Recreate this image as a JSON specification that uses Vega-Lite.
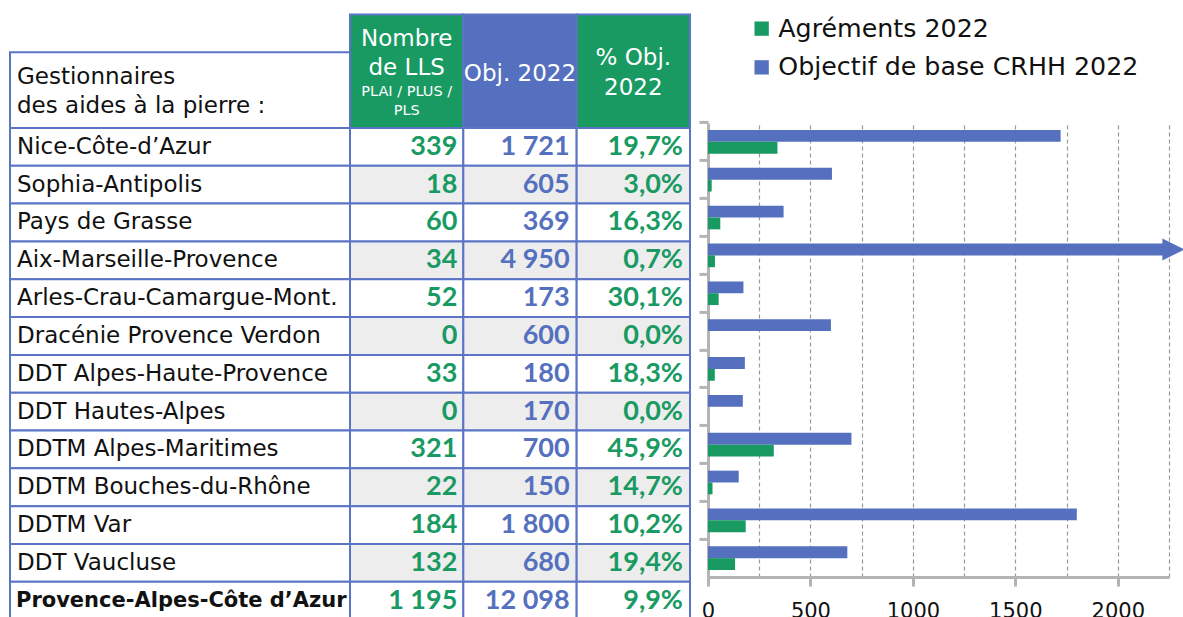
{
  "$schema": "https://vega.github.io/schema/vega-lite/v6.json",
  "padding": {"left": 9, "top": 13, "right": 0, "bottom": 0},
  "background": "#FFFFFF",
  "config": {
    "view": {"stroke": null},
    "font": "DejaVu Sans",
    "locale": {"number": {"decimal": ",", "thousands": "\u00a0", "grouping": [3], "currency": ["", "\u00a0€"]}}
  },
  "datasets": {
    "gestionnaires": [
      {"nom": "Nice-Côte-d’Azur", "agr": 339, "obj": 1721, "pct": 0.197},
      {"nom": "Sophia-Antipolis", "agr": 18, "obj": 605, "pct": 0.030},
      {"nom": "Pays de Grasse", "agr": 60, "obj": 369, "pct": 0.163},
      {"nom": "Aix-Marseille-Provence", "agr": 34, "obj": 4950, "pct": 0.007},
      {"nom": "Arles-Crau-Camargue-Mont.", "agr": 52, "obj": 173, "pct": 0.301},
      {"nom": "Dracénie Provence Verdon", "agr": 0, "obj": 600, "pct": 0.0},
      {"nom": "DDT Alpes-Haute-Provence", "agr": 33, "obj": 180, "pct": 0.183},
      {"nom": "DDT Hautes-Alpes", "agr": 0, "obj": 170, "pct": 0.0},
      {"nom": "DDTM Alpes-Maritimes", "agr": 321, "obj": 700, "pct": 0.459},
      {"nom": "DDTM Bouches-du-Rhône", "agr": 22, "obj": 150, "pct": 0.147},
      {"nom": "DDTM Var", "agr": 184, "obj": 1800, "pct": 0.102},
      {"nom": "DDT Vaucluse", "agr": 132, "obj": 680, "pct": 0.194},
      {"nom": "Provence-Alpes-Côte d’Azur", "agr": 1195, "obj": 12098, "pct": 0.099}
    ],
    "entete": [
      {"col": "nom", "titre": "Gestionnaires\ndes aides à la pierre :"},
      {"col": "agr", "titre": "Nombre\nde LLS", "detail": "PLAI / PLUS /\nPLS"},
      {"col": "obj", "titre": "Obj. 2022"},
      {"col": "pct", "titre": "% Obj.\n2022"}
    ]
  },
  "hconcat": [
    {
      "width": 340,
      "height": 671.2,
      "data": {"name": "gestionnaires"},
      "layer": [
        {
          "data": {"name": "entete"},
          "transform": [{"filter": "datum.col === 'nom'"}],
          "mark": {"type": "rect", "fill": "#FFFFFF", "stroke": "#5B74C6", "strokeWidth": 2},
          "encoding": {
            "y": {"datum": "h2", "type": "nominal", "bandPosition": 0, "axis": null,
              "scale": {"type": "band", "domain": ["h1","h2","h3","Nice-Côte-d’Azur","Sophia-Antipolis","Pays de Grasse","Aix-Marseille-Provence","Arles-Crau-Camargue-Mont.","Dracénie Provence Verdon","DDT Alpes-Haute-Provence","DDT Hautes-Alpes","DDTM Alpes-Maritimes","DDTM Bouches-du-Rhône","DDTM Var","DDT Vaucluse","Provence-Alpes-Côte d’Azur"], "paddingInner": 0, "paddingOuter": 0.871, "align": 0}},
            "y2": {"datum": "h3", "bandPosition": 1}
          }
        },
        {
          "mark": {"type": "rect", "fill": "#FFFFFF", "stroke": "#5B74C6", "strokeWidth": 2},
          "encoding": {
            "y": {"field": "nom", "type": "nominal", "axis": null,
              "scale": {"type": "band", "domain": ["h1","h2","h3","Nice-Côte-d’Azur","Sophia-Antipolis","Pays de Grasse","Aix-Marseille-Provence","Arles-Crau-Camargue-Mont.","Dracénie Provence Verdon","DDT Alpes-Haute-Provence","DDT Hautes-Alpes","DDTM Alpes-Maritimes","DDTM Bouches-du-Rhône","DDTM Var","DDT Vaucluse","Provence-Alpes-Côte d’Azur"], "paddingInner": 0, "paddingOuter": 0.871, "align": 0}}
          }
        },
        {
          "data": {"name": "entete"},
          "transform": [{"filter": "datum.col === 'nom'"}],
          "mark": {"type": "text", "align": "left", "baseline": "middle", "dx": 7, "dy": -13.2, "font": "DejaVu Sans", "fontSize": 23, "fill": "#111111", "lineBreak": "\n", "lineHeight": 29.4},
          "encoding": {
            "x": {"datum": "nom", "type": "nominal", "bandPosition": 0, "axis": null, "scale": {"type": "band", "domain": ["nom"], "paddingInner": 0, "paddingOuter": 0}},
            "y": {"datum": "h3", "type": "nominal", "bandPosition": 0, "axis": null,
              "scale": {"type": "band", "domain": ["h1","h2","h3","Nice-Côte-d’Azur","Sophia-Antipolis","Pays de Grasse","Aix-Marseille-Provence","Arles-Crau-Camargue-Mont.","Dracénie Provence Verdon","DDT Alpes-Haute-Provence","DDT Hautes-Alpes","DDTM Alpes-Maritimes","DDTM Bouches-du-Rhône","DDTM Var","DDT Vaucluse","Provence-Alpes-Côte d’Azur"], "paddingInner": 0, "paddingOuter": 0.871, "align": 0}},
            "text": {"field": "titre"}
          }
        },
        {
          "transform": [{"filter": "datum.nom !== 'Provence-Alpes-Côte d’Azur'"}],
          "mark": {"type": "text", "align": "left", "baseline": "middle", "dx": 7, "font": "DejaVu Sans", "fontSize": 23, "fill": "#111111"},
          "encoding": {
            "x": {"datum": "nom", "type": "nominal", "bandPosition": 0, "axis": null, "scale": {"type": "band", "domain": ["nom"], "paddingInner": 0, "paddingOuter": 0}},
            "y": {"field": "nom", "type": "nominal", "bandPosition": 0.5, "axis": null,
              "scale": {"type": "band", "domain": ["h1","h2","h3","Nice-Côte-d’Azur","Sophia-Antipolis","Pays de Grasse","Aix-Marseille-Provence","Arles-Crau-Camargue-Mont.","Dracénie Provence Verdon","DDT Alpes-Haute-Provence","DDT Hautes-Alpes","DDTM Alpes-Maritimes","DDTM Bouches-du-Rhône","DDTM Var","DDT Vaucluse","Provence-Alpes-Côte d’Azur"], "paddingInner": 0, "paddingOuter": 0.871, "align": 0}},
            "text": {"field": "nom"}
          }
        },
        {
          "transform": [{"filter": "datum.nom === 'Provence-Alpes-Côte d’Azur'"}],
          "mark": {"type": "text", "align": "left", "baseline": "middle", "dx": 6, "font": "DejaVu Sans", "fontWeight": "bold", "fontSize": 21, "fill": "#111111"},
          "encoding": {
            "x": {"datum": "nom", "type": "nominal", "bandPosition": 0, "axis": null, "scale": {"type": "band", "domain": ["nom"], "paddingInner": 0, "paddingOuter": 0}},
            "y": {"field": "nom", "type": "nominal", "bandPosition": 0.5, "axis": null,
              "scale": {"type": "band", "domain": ["h1","h2","h3","Nice-Côte-d’Azur","Sophia-Antipolis","Pays de Grasse","Aix-Marseille-Provence","Arles-Crau-Camargue-Mont.","Dracénie Provence Verdon","DDT Alpes-Haute-Provence","DDT Hautes-Alpes","DDTM Alpes-Maritimes","DDTM Bouches-du-Rhône","DDTM Var","DDT Vaucluse","Provence-Alpes-Côte d’Azur"], "paddingInner": 0, "paddingOuter": 0.871, "align": 0}},
            "text": {"field": "nom"}
          }
        }
      ]
    },
    {
      "width": 357.3,
      "height": 671.2,
      "data": {"name": "gestionnaires"},
      "layer": [
        {
          "transform": [
            {"window": [{"op": "row_number", "as": "rang"}]},
            {"fold": ["agr", "obj", "pct"], "as": ["col", "val"]}
          ],
          "mark": {"type": "rect", "stroke": "#5B74C6", "strokeWidth": 2},
          "encoding": {
            "x": {"field": "col", "type": "nominal", "axis": null, "scale": {"type": "band", "domain": ["agr","obj","pct"], "paddingInner": 0, "paddingOuter": 0.07635, "align": 0}},
            "y": {"field": "nom", "type": "nominal", "axis": null,
              "scale": {"type": "band", "domain": ["h1","h2","h3","Nice-Côte-d’Azur","Sophia-Antipolis","Pays de Grasse","Aix-Marseille-Provence","Arles-Crau-Camargue-Mont.","Dracénie Provence Verdon","DDT Alpes-Haute-Provence","DDT Hautes-Alpes","DDTM Alpes-Maritimes","DDTM Bouches-du-Rhône","DDTM Var","DDT Vaucluse","Provence-Alpes-Côte d’Azur"], "paddingInner": 0, "paddingOuter": 0.871, "align": 0}},
            "fill": {"condition": {"test": "datum.rang % 2 === 0", "value": "#EDEDED"}, "value": "#FFFFFF"}
          }
        },
        {
          "data": {"name": "entete"},
          "transform": [{"filter": "datum.col !== 'nom'"}],
          "mark": {"type": "rect", "stroke": "#5B74C6", "strokeWidth": 2},
          "encoding": {
            "x": {"field": "col", "type": "nominal", "axis": null, "scale": {"type": "band", "domain": ["agr","obj","pct"], "paddingInner": 0, "paddingOuter": 0.07635, "align": 0}},
            "y": {"datum": "h1", "type": "nominal", "bandPosition": 0, "axis": null,
              "scale": {"type": "band", "domain": ["h1","h2","h3","Nice-Côte-d’Azur","Sophia-Antipolis","Pays de Grasse","Aix-Marseille-Provence","Arles-Crau-Camargue-Mont.","Dracénie Provence Verdon","DDT Alpes-Haute-Provence","DDT Hautes-Alpes","DDTM Alpes-Maritimes","DDTM Bouches-du-Rhône","DDTM Var","DDT Vaucluse","Provence-Alpes-Côte d’Azur"], "paddingInner": 0, "paddingOuter": 0.871, "align": 0}},
            "y2": {"datum": "h3", "bandPosition": 1},
            "fill": {"condition": {"test": "datum.col === 'obj'", "value": "#5570BE"}, "value": "#189A62"}
          }
        },
        {
          "data": {"name": "entete"},
          "transform": [{"filter": "datum.col === 'obj'"}],
          "mark": {"type": "text", "align": "center", "baseline": "middle", "dy": 2.5, "font": "DejaVu Sans", "fontSize": 23, "fill": "#FFFFFF"},
          "encoding": {
            "x": {"field": "col", "type": "nominal", "bandPosition": 0.5, "axis": null, "scale": {"type": "band", "domain": ["agr","obj","pct"], "paddingInner": 0, "paddingOuter": 0.07635, "align": 0}},
            "y": {"datum": "h2", "type": "nominal", "bandPosition": 0.5, "axis": null,
              "scale": {"type": "band", "domain": ["h1","h2","h3","Nice-Côte-d’Azur","Sophia-Antipolis","Pays de Grasse","Aix-Marseille-Provence","Arles-Crau-Camargue-Mont.","Dracénie Provence Verdon","DDT Alpes-Haute-Provence","DDT Hautes-Alpes","DDTM Alpes-Maritimes","DDTM Bouches-du-Rhône","DDTM Var","DDT Vaucluse","Provence-Alpes-Côte d’Azur"], "paddingInner": 0, "paddingOuter": 0.871, "align": 0}},
            "text": {"field": "titre"}
          }
        },
        {
          "data": {"name": "entete"},
          "transform": [{"filter": "datum.col === 'pct'"}],
          "mark": {"type": "text", "align": "center", "baseline": "middle", "dy": -13.4, "font": "DejaVu Sans", "fontSize": 23, "fill": "#FFFFFF", "lineBreak": "\n", "lineHeight": 30},
          "encoding": {
            "x": {"field": "col", "type": "nominal", "bandPosition": 0.5, "axis": null, "scale": {"type": "band", "domain": ["agr","obj","pct"], "paddingInner": 0, "paddingOuter": 0.07635, "align": 0}},
            "y": {"datum": "h2", "type": "nominal", "bandPosition": 0.5, "axis": null,
              "scale": {"type": "band", "domain": ["h1","h2","h3","Nice-Côte-d’Azur","Sophia-Antipolis","Pays de Grasse","Aix-Marseille-Provence","Arles-Crau-Camargue-Mont.","Dracénie Provence Verdon","DDT Alpes-Haute-Provence","DDT Hautes-Alpes","DDTM Alpes-Maritimes","DDTM Bouches-du-Rhône","DDTM Var","DDT Vaucluse","Provence-Alpes-Côte d’Azur"], "paddingInner": 0, "paddingOuter": 0.871, "align": 0}},
            "text": {"field": "titre"}
          }
        },
        {
          "data": {"name": "entete"},
          "transform": [{"filter": "datum.col === 'agr'"}],
          "mark": {"type": "text", "align": "center", "baseline": "middle", "dy": -32.5, "font": "DejaVu Sans", "fontSize": 23, "fill": "#FFFFFF", "lineBreak": "\n", "lineHeight": 29},
          "encoding": {
            "x": {"field": "col", "type": "nominal", "bandPosition": 0.5, "axis": null, "scale": {"type": "band", "domain": ["agr","obj","pct"], "paddingInner": 0, "paddingOuter": 0.07635, "align": 0}},
            "y": {"datum": "h2", "type": "nominal", "bandPosition": 0.5, "axis": null,
              "scale": {"type": "band", "domain": ["h1","h2","h3","Nice-Côte-d’Azur","Sophia-Antipolis","Pays de Grasse","Aix-Marseille-Provence","Arles-Crau-Camargue-Mont.","Dracénie Provence Verdon","DDT Alpes-Haute-Provence","DDT Hautes-Alpes","DDTM Alpes-Maritimes","DDTM Bouches-du-Rhône","DDTM Var","DDT Vaucluse","Provence-Alpes-Côte d’Azur"], "paddingInner": 0, "paddingOuter": 0.871, "align": 0}},
            "text": {"field": "titre"}
          }
        },
        {
          "data": {"name": "entete"},
          "transform": [{"filter": "datum.col === 'agr'"}],
          "mark": {"type": "text", "align": "center", "baseline": "middle", "dy": 20.6, "font": "DejaVu Sans", "fontSize": 14.5, "fill": "#FFFFFF", "lineBreak": "\n", "lineHeight": 19.3},
          "encoding": {
            "x": {"field": "col", "type": "nominal", "bandPosition": 0.5, "axis": null, "scale": {"type": "band", "domain": ["agr","obj","pct"], "paddingInner": 0, "paddingOuter": 0.07635, "align": 0}},
            "y": {"datum": "h2", "type": "nominal", "bandPosition": 0.5, "axis": null,
              "scale": {"type": "band", "domain": ["h1","h2","h3","Nice-Côte-d’Azur","Sophia-Antipolis","Pays de Grasse","Aix-Marseille-Provence","Arles-Crau-Camargue-Mont.","Dracénie Provence Verdon","DDT Alpes-Haute-Provence","DDT Hautes-Alpes","DDTM Alpes-Maritimes","DDTM Bouches-du-Rhône","DDTM Var","DDT Vaucluse","Provence-Alpes-Côte d’Azur"], "paddingInner": 0, "paddingOuter": 0.871, "align": 0}},
            "text": {"field": "detail"}
          }
        },
        {
          "mark": {"type": "text", "align": "right", "baseline": "middle", "dx": -6, "font": "Lato", "fontWeight": "bold", "fontSize": 27, "fill": "#189A62"},
          "encoding": {
            "x": {"datum": "agr", "type": "nominal", "bandPosition": 1, "axis": null, "scale": {"type": "band", "domain": ["agr","obj","pct"], "paddingInner": 0, "paddingOuter": 0.07635, "align": 0}},
            "y": {"field": "nom", "type": "nominal", "bandPosition": 0.5, "axis": null,
              "scale": {"type": "band", "domain": ["h1","h2","h3","Nice-Côte-d’Azur","Sophia-Antipolis","Pays de Grasse","Aix-Marseille-Provence","Arles-Crau-Camargue-Mont.","Dracénie Provence Verdon","DDT Alpes-Haute-Provence","DDT Hautes-Alpes","DDTM Alpes-Maritimes","DDTM Bouches-du-Rhône","DDTM Var","DDT Vaucluse","Provence-Alpes-Côte d’Azur"], "paddingInner": 0, "paddingOuter": 0.871, "align": 0}},
            "text": {"field": "agr", "type": "quantitative", "format": ",d"}
          }
        },
        {
          "mark": {"type": "text", "align": "right", "baseline": "middle", "dx": -7, "font": "Lato", "fontWeight": "bold", "fontSize": 27, "fill": "#5570BE"},
          "encoding": {
            "x": {"datum": "obj", "type": "nominal", "bandPosition": 1, "axis": null, "scale": {"type": "band", "domain": ["agr","obj","pct"], "paddingInner": 0, "paddingOuter": 0.07635, "align": 0}},
            "y": {"field": "nom", "type": "nominal", "bandPosition": 0.5, "axis": null,
              "scale": {"type": "band", "domain": ["h1","h2","h3","Nice-Côte-d’Azur","Sophia-Antipolis","Pays de Grasse","Aix-Marseille-Provence","Arles-Crau-Camargue-Mont.","Dracénie Provence Verdon","DDT Alpes-Haute-Provence","DDT Hautes-Alpes","DDTM Alpes-Maritimes","DDTM Bouches-du-Rhône","DDTM Var","DDT Vaucluse","Provence-Alpes-Côte d’Azur"], "paddingInner": 0, "paddingOuter": 0.871, "align": 0}},
            "text": {"field": "obj", "type": "quantitative", "format": ",d"}
          }
        },
        {
          "mark": {"type": "text", "align": "right", "baseline": "middle", "dx": -7, "font": "Lato", "fontWeight": "bold", "fontSize": 27, "fill": "#189A62"},
          "encoding": {
            "x": {"datum": "pct", "type": "nominal", "bandPosition": 1, "axis": null, "scale": {"type": "band", "domain": ["agr","obj","pct"], "paddingInner": 0, "paddingOuter": 0.07635, "align": 0}},
            "y": {"field": "nom", "type": "nominal", "bandPosition": 0.5, "axis": null,
              "scale": {"type": "band", "domain": ["h1","h2","h3","Nice-Côte-d’Azur","Sophia-Antipolis","Pays de Grasse","Aix-Marseille-Provence","Arles-Crau-Camargue-Mont.","Dracénie Provence Verdon","DDT Alpes-Haute-Provence","DDT Hautes-Alpes","DDTM Alpes-Maritimes","DDTM Bouches-du-Rhône","DDTM Var","DDT Vaucluse","Provence-Alpes-Côte d’Azur"], "paddingInner": 0, "paddingOuter": 0.871, "align": 0}},
            "text": {"field": "pct", "type": "quantitative", "format": ".1%"}
          }
        }
      ]
    },
    {
      "width": 461,
      "height": 454.2,
      "data": {"name": "gestionnaires"},
      "transform": [{"filter": "datum.nom !== 'Provence-Alpes-Côte d’Azur'"}],
      "layer": [
        {
          "transform": [{"fold": ["obj", "agr"], "as": ["serie", "valeur"]}],
          "mark": {"type": "bar"},
          "encoding": {
            "y": {"field": "nom", "type": "nominal", "sort": null,
              "scale": {"type": "band", "domain": ["Nice-Côte-d’Azur","Sophia-Antipolis","Pays de Grasse","Aix-Marseille-Provence","Arles-Crau-Camargue-Mont.","Dracénie Provence Verdon","DDT Alpes-Haute-Provence","DDT Hautes-Alpes","DDTM Alpes-Maritimes","DDTM Bouches-du-Rhône","DDTM Var","DDT Vaucluse"], "paddingInner": 0, "paddingOuter": 0},
              "axis": {"title": null, "labels": false, "bandPosition": 0, "ticks": true, "tickSize": 9, "tickWidth": 3, "tickColor": "#B4B4B4", "domainColor": "#B4B4B4", "domainWidth": 3, "grid": false}},
            "yOffset": {"field": "serie", "type": "nominal", "scale": {"type": "band", "domain": ["obj", "agr"], "paddingInner": 0, "paddingOuter": 0.6}},
            "x": {"field": "valeur", "type": "quantitative",
              "scale": {"domain": [0, 2250], "nice": false, "clamp": true, "zero": true},
              "axis": {"title": null, "values": [0, 250, 500, 750, 1000, 1250, 1500, 1750, 2000, 2250], "format": "d",
                "labelExpr": "datum.value % 500 === 0 ? datum.label : ''",
                "labelFont": "DejaVu Sans", "labelFontSize": 21, "labelColor": "#111111", "labelPadding": 14, "labelFlush": false, "labelOverlap": false,
                "tickSize": 9, "tickWidth": 3, "tickColor": "#B4B4B4",
                "tickOpacity": {"condition": {"test": "datum.value % 500 === 0", "value": 1}, "value": 0},
                "domainColor": "#B4B4B4", "domainWidth": 3,
                "grid": true, "gridColor": "#999999", "gridDash": [4, 3], "gridWidth": 1.2}},
            "color": {"field": "serie", "type": "nominal",
              "scale": {"domain": ["agr", "obj"], "range": ["#189A62", "#5570BE"]},
              "legend": {"orient": "none", "legendX": 739, "legendY": 2, "direction": "vertical", "title": null,
                "symbolType": "square", "symbolSize": 205, "symbolStrokeWidth": 0, "symbolOpacity": 1,
                "labelFont": "DejaVu Sans", "labelFontSize": 25.3, "labelColor": "#111111", "labelOffset": 4, "labelLimit": 0, "rowPadding": 12.7, "padding": 0,
                "labelExpr": "datum.label === 'agr' ? 'Agréments 2022' : 'Objectif de base CRHH 2022'"}}
          }
        },
        {
          "transform": [{"filter": "datum.obj > 2250"}],
          "mark": {"type": "point", "shape": "M -0.6 -1 L 1.4 0 L -0.6 1 Z", "size": 484, "filled": true, "fill": "#5570BE", "opacity": 1, "strokeWidth": 0},
          "encoding": {
            "y": {"field": "nom", "type": "nominal", "sort": null,
              "scale": {"type": "band", "domain": ["Nice-Côte-d’Azur","Sophia-Antipolis","Pays de Grasse","Aix-Marseille-Provence","Arles-Crau-Camargue-Mont.","Dracénie Provence Verdon","DDT Alpes-Haute-Provence","DDT Hautes-Alpes","DDTM Alpes-Maritimes","DDTM Bouches-du-Rhône","DDTM Var","DDT Vaucluse"], "paddingInner": 0, "paddingOuter": 0}},
            "yOffset": {"datum": "obj", "type": "nominal", "bandPosition": 0.5, "scale": {"type": "band", "domain": ["obj", "agr"], "paddingInner": 0, "paddingOuter": 0.6}},
            "x": {"field": "obj", "type": "quantitative"}
          }
        }
      ]
    }
  ],
  "spacing": 0,
  "bounds": "flush",
  "center": true
}
